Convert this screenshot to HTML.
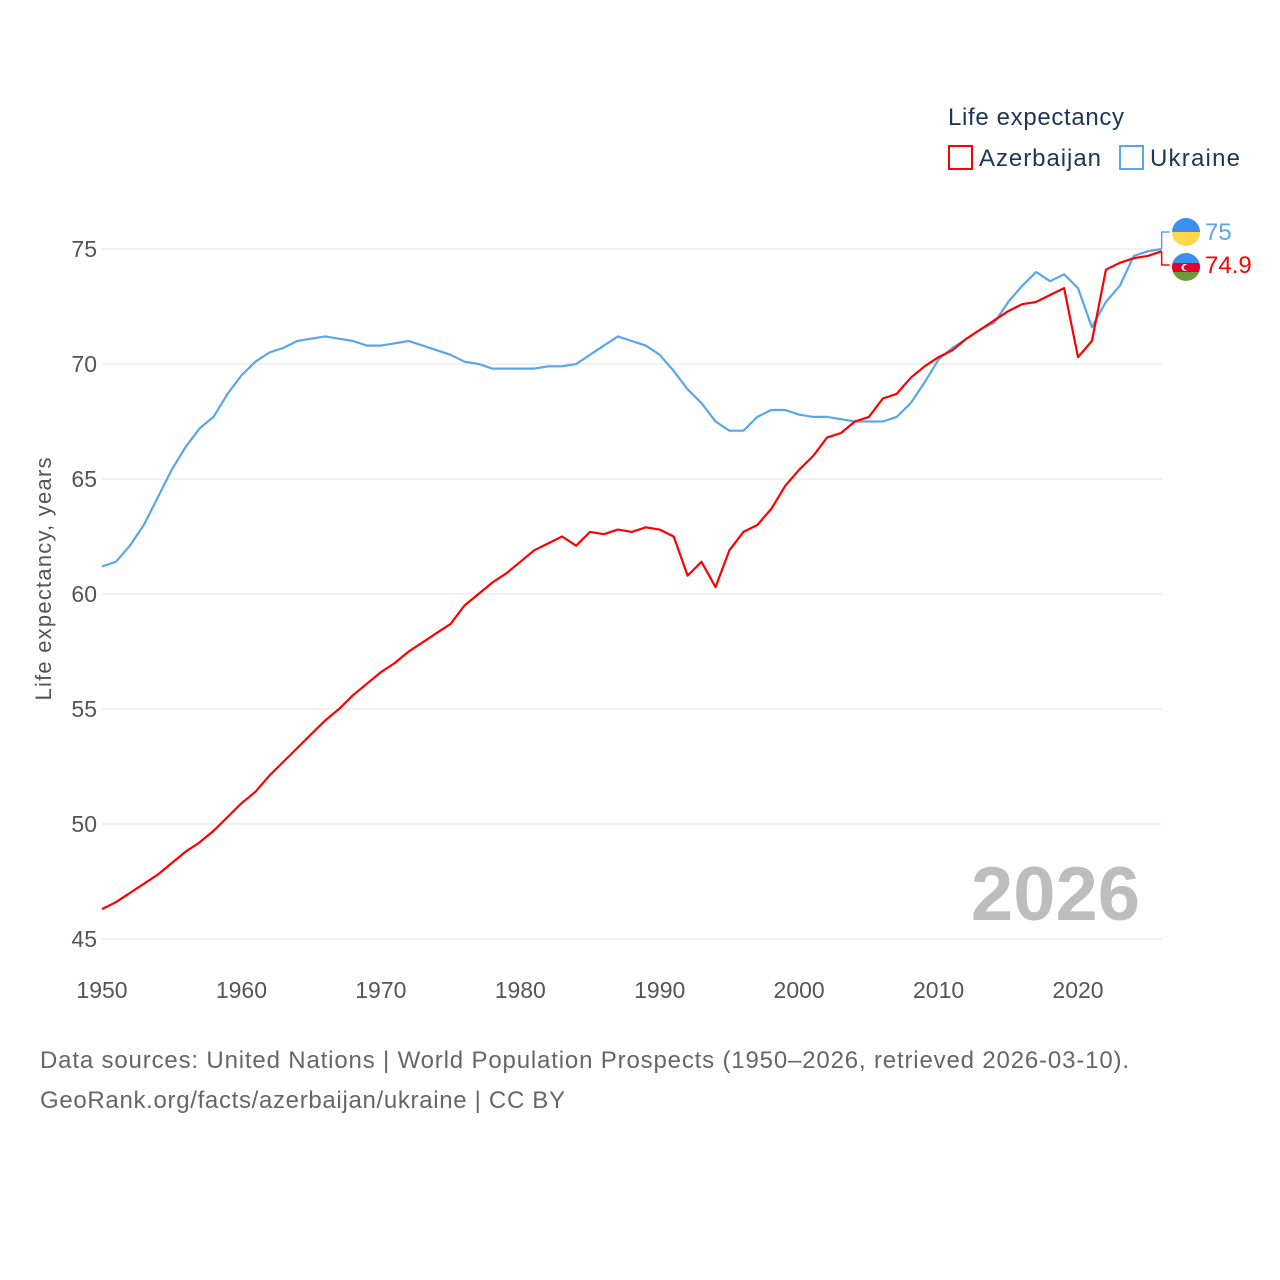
<!DOCTYPE html>
<html><head><meta charset="utf-8">
<style>
body{margin:0;background:#fff;width:1280px;height:1280px;overflow:hidden;font-family:"Liberation Sans",sans-serif;}
svg{display:block}
</style></head>
<body>
<svg id="chart" width="1280" height="1280">
  <text x="948" y="125" font-size="24" fill="#1d3557" textLength="176">Life expectancy</text>
  <g>
    <rect x="949" y="146" width="23" height="23" fill="none" stroke="#ff0000" stroke-width="2"/>
    <text x="979" y="166" font-size="24" fill="#1d3557" textLength="122">Azerbaijan</text>
  </g>
  <g>
    <rect x="1120" y="146" width="23" height="23" fill="none" stroke="#5aa6ec" stroke-width="2"/>
    <text x="1150" y="166" font-size="24" fill="#1d3557" textLength="90">Ukraine</text>
  </g>
  <g id="grid"></g>
  <g id="xt"></g>
  <text x="1140" y="920" font-size="76" font-weight="bold" fill="#bdbdbd" text-anchor="end">2026</text>
  <text transform="translate(51,579) rotate(-90)" font-size="22" fill="#555" text-anchor="middle" textLength="243">Life expectancy, years</text>
  <g id="lines"></g>
  <g id="end"></g>
  <text x="40" y="1068" font-size="24" fill="#666" textLength="1089">Data sources: United Nations | World Population Prospects (1950–2026, retrieved 2026-03-10).</text>
  <text x="40" y="1108" font-size="24" fill="#666" textLength="525">GeoRank.org/facts/azerbaijan/ukraine | CC BY</text>
</svg>
<script>
const startYear = 1950;
const yTicks = [45, 50, 55, 60, 65, 70, 75];
const xTicks = [1950, 1960, 1970, 1980, 1990, 2000, 2010, 2020];
const ukraine = [61.2,61.4,62.1,63.0,64.2,65.4,66.4,67.2,67.7,68.7,69.5,70.1,70.5,70.7,71.0,71.1,71.2,71.1,71.0,70.8,70.8,70.9,71.0,70.8,70.6,70.4,70.1,70.0,69.8,69.8,69.8,69.8,69.9,69.9,70.0,70.4,70.8,71.2,71.0,70.8,70.4,69.7,68.9,68.3,67.5,67.1,67.1,67.7,68.0,68.0,67.8,67.7,67.7,67.6,67.5,67.5,67.5,67.7,68.3,69.2,70.2,70.7,71.1,71.5,71.8,72.7,73.4,74.0,73.6,73.9,73.3,71.6,72.7,73.4,74.7,74.9,75.0];
const azerbaijan = [46.3,46.6,47.0,47.4,47.8,48.3,48.8,49.2,49.7,50.3,50.9,51.4,52.1,52.7,53.3,53.9,54.5,55.0,55.6,56.1,56.6,57.0,57.5,57.9,58.3,58.7,59.5,60.0,60.5,60.9,61.4,61.9,62.2,62.5,62.1,62.7,62.6,62.8,62.7,62.9,62.8,62.5,60.8,61.4,60.3,61.9,62.7,63.0,63.7,64.7,65.4,66.0,66.8,67.0,67.5,67.7,68.5,68.7,69.4,69.9,70.3,70.6,71.1,71.5,71.9,72.3,72.6,72.7,73.0,73.3,70.3,71.0,74.1,74.4,74.6,74.7,74.9];

const NS = "http://www.w3.org/2000/svg";
const xS = y => 102 + (y - 1950) * (976 / 70);
const yS = v => 249 + (75 - v) * 23;
function mk(tag, attrs, parent){const e=document.createElementNS(NS,tag);for(const k in attrs)e.setAttribute(k,attrs[k]);parent.appendChild(e);return e;}

const grid = document.getElementById('grid');
yTicks.forEach(t=>{
  const l = mk('line',{x1:102,x2:1162,y1:yS(t),y2:yS(t),stroke:'#e6e6e6','stroke-width':1},grid);
  
  
  const tx = mk('text',{x:97,y:yS(t)+8,'font-size':23,fill:'#555','text-anchor':'end'},grid);
  tx.textContent = t;
  
  
});
const xt = document.getElementById('xt');
xTicks.forEach(t=>{
  const tx = mk('text',{x:xS(t),y:998,'font-size':23,fill:'#555','text-anchor':'middle'},xt);
  tx.textContent = t;
  
  
});
const lines = document.getElementById('lines');
function drawLine(arr,color,name){
  const pts = arr.map((v,i)=>xS(startYear+i).toFixed(1)+','+yS(v).toFixed(1)).join(' ');
  const p = mk('polyline',{points:pts,fill:'none',stroke:color,'stroke-width':2.2,'stroke-linejoin':'round'},lines);
  
  
}
drawLine(ukraine,'#5aa6ec','line-ukraine');
drawLine(azerbaijan,'#ff0000','line-azerbaijan');

const end = document.getElementById('end');
const lastX = xS(startYear + ukraine.length - 1);
const uv = ukraine[ukraine.length-1], av = azerbaijan[azerbaijan.length-1];
const uy = 232, ay = 265;
mk('polyline',{points:`${lastX},${yS(uv)} ${lastX},${uy} ${lastX+8},${uy}`,fill:'none',stroke:'#5aa6ec','stroke-width':1.5},end);
mk('polyline',{points:`${lastX},${yS(av)} ${lastX},${ay} ${lastX+8},${ay}`,fill:'none',stroke:'#ff0000','stroke-width':1.5},end);
const cu = mk('g',{},end);


mk('path',{d:`M1172,${uy} a14,14 0 0 1 28,0 z`,fill:'#3a8ff0'},cu);
mk('path',{d:`M1172,${uy} a14,14 0 0 0 28,0 z`,fill:'#ffd84a'},cu);
const ca = mk('g',{},end);


mk('clipPath',{id:'azc'},ca);
mk('circle',{cx:1186,cy:ay+2,r:14},document.getElementById('azc'));
const g2 = mk('g',{'clip-path':'url(#azc)'},ca);
mk('rect',{x:1172,y:ay-12,width:28,height:10,fill:'#3a8ff0'},g2);
mk('rect',{x:1172,y:ay-2,width:28,height:9,fill:'#e4002b'},g2);
mk('rect',{x:1172,y:ay+7,width:28,height:10,fill:'#6a9a3a'},g2);
mk('circle',{cx:1185,cy:ay+2.5,r:3.5,fill:'#fff'},g2);
mk('circle',{cx:1186.5,cy:ay+2.5,r:2.8,fill:'#e4002b'},g2);
const tu = mk('text',{x:1205,y:uy+8,'font-size':24,fill:'#5aa6ec'},end);
tu.textContent = uv;


const ta = mk('text',{x:1205,y:ay+8,'font-size':24,fill:'#ff0000'},end);
ta.textContent = av;


</script>
</body></html>
